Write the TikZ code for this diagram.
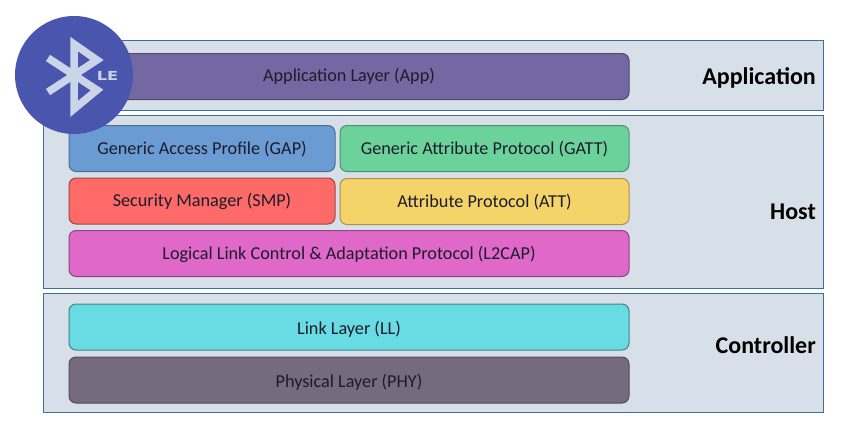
\documentclass[tikz,border=0pt]{standalone}
\usepackage{fontspec}
\setmainfont{Carlito}
\newfontfamily\badgefont{DejaVu Sans}
\definecolor{panel}{HTML}{D7E0E8}
\definecolor{panelline}{HTML}{3E6E9C}
\definecolor{ink}{HTML}{1C1C2C}
\definecolor{cApp}{HTML}{7468A2}
\definecolor{cGap}{HTML}{6A9BD3}
\definecolor{cGatt}{HTML}{6CD29C}
\definecolor{cSmp}{HTML}{FD6A68}
\definecolor{cAtt}{HTML}{F4D369}
\definecolor{cL}{HTML}{DF68C8}
\definecolor{cLL}{HTML}{69DCE3}
\definecolor{cPhy}{HTML}{756A7E}
\definecolor{badge}{HTML}{4A55AE}
\definecolor{rune}{HTML}{CBD5EA}
\tikzset{
  panelbox/.style={draw=panelline,fill=panel,line width=1pt,minimum height=#1,minimum width=780pt,inner sep=0pt,anchor=center},
  layerbox/.style={rounded corners=7pt,line width=1pt,minimum height=46pt,inner sep=0pt,anchor=center,text=ink,text height=14pt,text depth=2.5pt,font=\fontsize{18.2}{20}\selectfont},
  head/.style={font=\fontsize{24}{26}\selectfont\bfseries,text=black,inner sep=0pt,anchor=east},
}
\begin{document}
\begin{tikzpicture}[x=1pt,y=-1pt]
\useasboundingbox (0,0) rectangle (844,432);
\node[panelbox=70pt] (papp) at (433,75) {};
\node[panelbox=173pt] (phost) at (433,201.5) {};
\node[panelbox=119pt] (pctrl) at (433,352.5) {};
\node[layerbox,text depth=5pt,draw=cApp!70!black,fill=cApp,minimum width=560pt] (app) at (349,76.5) {Application Layer (App)};
\node[layerbox,draw=cGap!70!black,fill=cGap,minimum width=266pt] (gap) at (202,148.5) {Generic Access Profile (GAP)};
\node[layerbox,draw=cGatt!70!black,fill=cGatt,minimum width=289pt] (gatt) at (484.5,148.5) {Generic Attribute Protocol (GATT)};
\node[layerbox,draw=cSmp!65!black,fill=cSmp,minimum width=266pt] (smp) at (202,201) {Security Manager (SMP)};
\node[layerbox,draw=cAtt!70!black,fill=cAtt,minimum width=289pt] (att) at (484.5,201.5) {Attribute Protocol (ATT)};
\node[layerbox,text depth=1.5pt,draw=cL!65!black,fill=cL,minimum width=560pt] (l2) at (349,253.5) {Logical Link Control \& Adaptation Protocol (L2CAP)};
\node[layerbox,text depth=0pt,text height=15pt,draw=cLL!60!black,fill=cLL,minimum width=560pt] (ll) at (349,327) {Link Layer (LL)};
\node[layerbox,text depth=0pt,text height=15pt,draw=cPhy!70!black,fill=cPhy,minimum width=560pt] (phy) at (349,380) {Physical Layer (PHY)};
\node[head] (happ) at (816,78) {Application};
\node[head] (hhost) at (816,211.5) {Host};
\node[head] (hctrl) at (816,345) {Controller};
\fill[badge] (74,75) circle (59);
\draw[rune,line width=7.5pt,miter limit=10,line join=miter] (48,58) -- (97,90) -- (74,109) -- (74,44) -- (97,60) -- (48,92);
\node[text=rune,font=\badgefont\fontsize{12.5}{14}\selectfont\bfseries,inner sep=0pt,xscale=1.3] (le) at (107.5,75.5) {LE};
\end{tikzpicture}
\end{document}
